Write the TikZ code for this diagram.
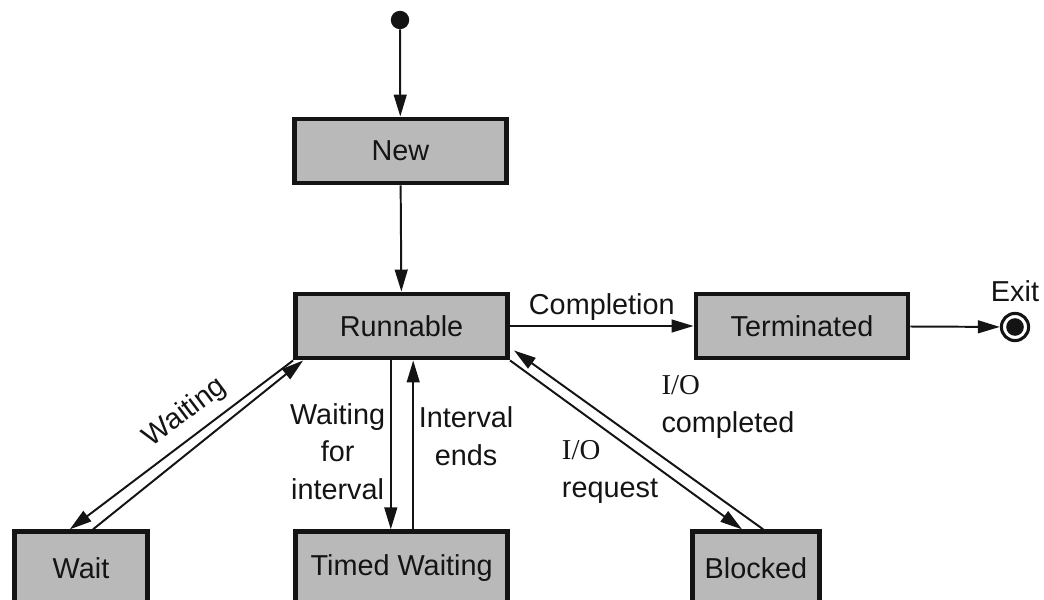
\documentclass[tikz,border=0pt]{standalone}
\usepackage{fontspec}
\setmainfont{Liberation Sans}
\newfontfamily\iofont{Liberation Serif}
\usetikzlibrary{arrows.meta, positioning, calc}
\definecolor{boxgray}{RGB}{185,185,185}
\definecolor{inkdark}{RGB}{20,20,20}
\tikzset{
  state/.style={rectangle, draw=inkdark, fill=boxgray, text=inkdark,
    minimum width=5.3cm, minimum height=1.6cm,
    font=\fontsize{20.5}{27}\selectfont, line width=3.5pt},
  startdot/.style={circle, fill=inkdark, minimum size=0.46cm, inner sep=0pt},
  exitring/.style={circle, draw=inkdark, fill=white, minimum size=0.68cm,
    inner sep=0pt, line width=2.2pt},
  exitdot/.style={circle, fill=inkdark, minimum size=0.44cm, inner sep=0pt},
  lbl/.style={font=\fontsize{20.5}{27}\selectfont, text=inkdark, align=center},
  arrow/.style={-{Triangle[length=0.55cm, width=0.32cm]}, line width=1.4pt, color=inkdark}
}

\begin{document}
\begin{tikzpicture}
  \useasboundingbox (0,0) rectangle (26.1,14.975);
  % states
  \node[startdot] (start) at (10.0,14.475) {};
  \node[state] (new) at (10.01,11.2) {New};
  \node[state] (run) at (10.04,6.825) {Runnable};
  \node[state] (term) at (20.05,6.825) {Terminated};
  \node[exitring] (exit) at (25.375,6.8) {};
  \node[exitdot] (exitdot) at (exit.center) {};
  \node[lbl, above=0.12cm of exit] (exitlbl) {Exit};
  % bottom row, cut by the page edge
  \node[state, minimum width=3.33cm, minimum height=1.8cm] (wait) at (2.025,0.78) {Wait};
  \node[state, minimum height=1.8cm] (timed) at (10.04,0.78) {Timed Waiting};
  \node[state, minimum width=3.18cm, minimum height=1.8cm] (blocked) at (18.9,0.78) {Blocked};
  % main path
  \draw[arrow] (start) -- (new);
  \draw[arrow] (new) -- (run);
  \draw[arrow] (run) -- node[lbl, above] {Completion} (term);
  \draw[arrow] (term) -- (exit);
  % wait
  \draw[arrow] (run.south west) -- node[lbl, sloped, above=3pt, pos=0.42] {Waiting} ([xshift=-0.28cm]wait.north);
  \draw[arrow] ([xshift=0.3cm]wait.north) -- ([xshift=0.25cm]run.south west);
  % timed waiting
  \draw[arrow] ([xshift=-0.27cm]run.south) -- node[lbl, left, pos=0.54] {Waiting\\for\\interval} ([xshift=-0.27cm]timed.north);
  \draw[arrow] ([xshift=0.29cm]timed.north) -- node[lbl, right, pos=0.55] {Interval\\ends} ([xshift=0.29cm]run.south);
  % blocked
  \draw[arrow] (run.south east) -- ([xshift=-0.35cm]blocked.north);
  \draw[arrow] ([xshift=0.18cm]blocked.north) -- ([xshift=0.1cm, yshift=0.25cm]run.south east);
  \node[lbl, align=left] (ioreq) at (15.25,3.175) {{\iofont I/O}\\request};
  \node[lbl, align=left] (iodone) at (18.2,4.8) {{\iofont I/O}\\completed};
\end{tikzpicture}
\end{document}
